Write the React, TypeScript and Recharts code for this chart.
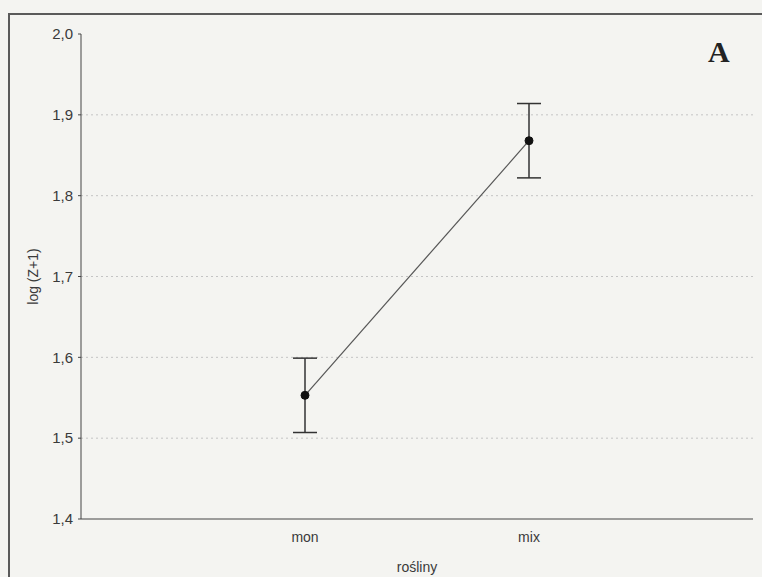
import React from 'react';
import {
  ComposedChart,
  Line,
  XAxis,
  YAxis,
  ErrorBar,
  ReferenceLine,
} from 'recharts';

const categories = ['mon', 'mix'];
const means = [1.553, 1.868];
const errors = [0.046, 0.046];
const yTicks = [1.4, 1.5, 1.6, 1.7, 1.8, 1.9, 2.0];
const gridValues = [1.5, 1.6, 1.7, 1.8, 1.9];

const data = categories.map((name, i) => ({
  pos: i + 1,
  name,
  mean: means[i],
  err: errors[i],
}));

const fmt = (v: number) => v.toFixed(1).replace('.', ',');
const font = '"Liberation Sans", Arial, sans-serif';

export default function App() {
  return (
    <div style={{ position: 'fixed', left: 0, top: 0, width: 762, height: 577, background: '#f4f4f1', overflow: 'hidden' }}>
      {/* outer frame, only left and top edges are visible */}
      <div
        style={{
          position: 'absolute',
          left: 8,
          top: 13,
          width: 800,
          height: 600,
          borderLeft: '2px solid #5a5a5a',
          borderTop: '2px solid #5a5a5a',
        }}
      />
      <div
        style={{
          position: 'absolute',
          left: 708,
          top: 35,
          fontFamily: '"Liberation Serif", "Times New Roman", serif',
          fontWeight: 'bold',
          fontSize: 30,
          color: '#222',
        }}
      >
        A
      </div>
      <div style={{ position: 'absolute', left: 0, top: 0 }}>
        <ComposedChart
          width={762}
          height={577}
          data={data}
          margin={{ top: 34, right: 9, bottom: 0, left: 0 }}
        >
          {gridValues.map((v) => (
            <ReferenceLine key={v} y={v} stroke="#c4c4c4" strokeDasharray="2 3" />
          ))}
          <XAxis
            dataKey="pos"
            type="number"
            domain={[0, 3]}
            ticks={[1, 2]}
            tickFormatter={(v: number) => categories[v - 1]}
            height={58}
            stroke="#444"
            tickLine={false}
            tickMargin={7}
            tick={{ fill: '#3a3a3a', fontSize: 14, fontFamily: font }}
            label={{ value: 'rośliny', position: 'insideBottom', offset: 5, fill: '#3a3a3a', fontSize: 14, fontFamily: font }}
          />
          <YAxis
            type="number"
            domain={[1.4, 2.0]}
            ticks={yTicks}
            tickFormatter={fmt}
            width={81}
            stroke="#444"
            tickSize={3}
            tickMargin={5}
            tick={{ fill: '#3a3a3a', fontSize: 15, fontFamily: font }}
            label={{
              value: 'log (Z+1)',
              angle: -90,
              position: 'insideLeft',
              offset: 33,
              fill: '#3a3a3a',
              fontSize: 14,
              fontFamily: font,
              style: { textAnchor: 'middle' },
            }}
          />
          <Line
            dataKey="mean"
            stroke="#555"
            strokeWidth={1.2}
            dot={{ r: 4, fill: '#111', stroke: '#111', strokeWidth: 1 }}
            isAnimationActive={false}
          >
            <ErrorBar dataKey="err" width={12} stroke="#333" strokeWidth={1.5} direction="y" />
          </Line>
        </ComposedChart>
      </div>
    </div>
  );
}
